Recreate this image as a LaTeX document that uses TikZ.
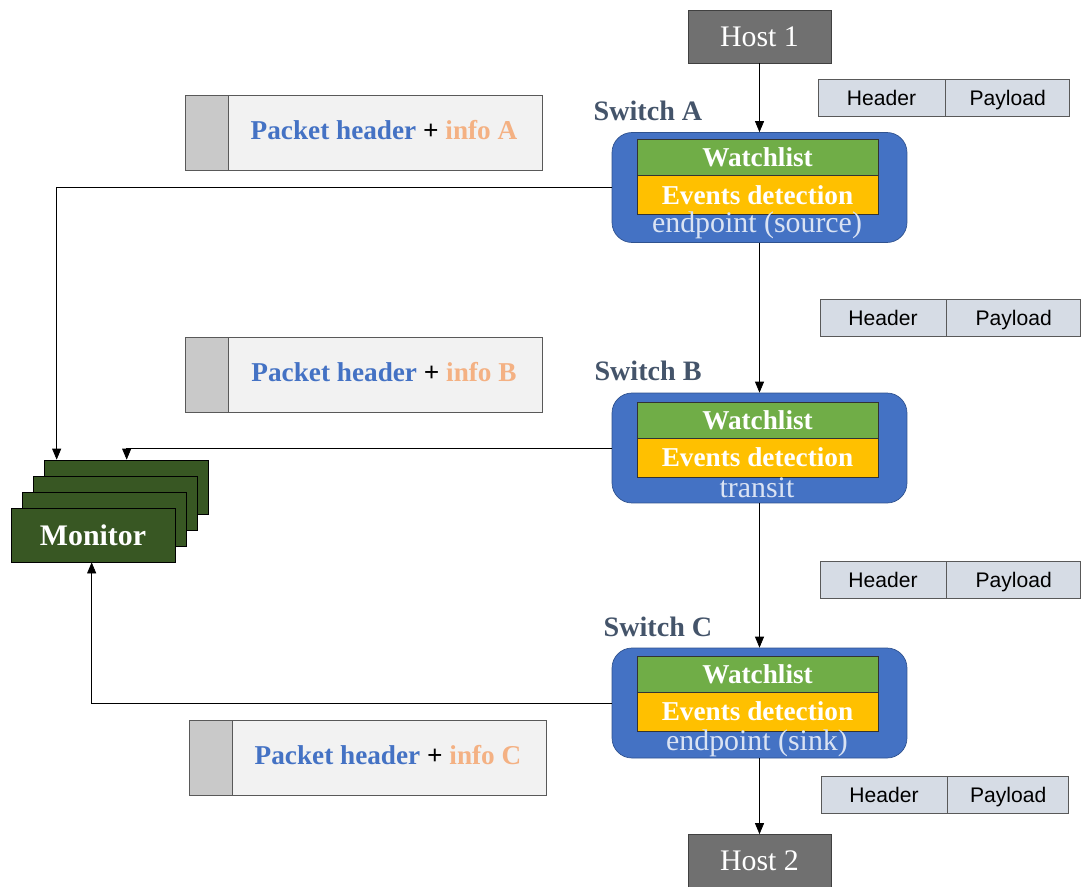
\documentclass[tikz,border=0pt]{standalone}
\usepackage{fontspec}
\setmainfont{Liberation Serif}
\newfontfamily\hdrfont{Liberation Sans}
\usetikzlibrary{arrows.meta,positioning,calc}
\definecolor{hostgray}{HTML}{707070}
\definecolor{switchblue}{HTML}{4472C4}
\definecolor{switchedge}{HTML}{2F528F}
\definecolor{watchgreen}{HTML}{70AD47}
\definecolor{eventyellow}{HTML}{FFC000}
\definecolor{roletext}{HTML}{DAE3F3}
\definecolor{labelslate}{HTML}{44546A}
\definecolor{pktfill}{HTML}{F2F2F2}
\definecolor{pktstrip}{HTML}{C9C9C9}
\definecolor{hdrfill}{HTML}{D6DCE5}
\definecolor{monitorgreen}{HTML}{385723}
\definecolor{infoorange}{HTML}{F4B183}
\definecolor{hdrblue}{HTML}{4472C4}

\begin{document}
\begin{tikzpicture}[x=0.02cm,y=-0.02cm,>={Triangle[length=2.2mm,width=1.8mm]},
host/.style={draw=black!75,fill=hostgray,text=white,minimum width=2.86cm,
  minimum height=1.06cm,inner sep=0pt,font=\fontsize{17}{19}\selectfont},
switchbox/.style={draw=switchedge,fill=switchblue,rounded corners=0.4cm,
  minimum width=5.9cm,minimum height=2.2cm,inner sep=0pt},
watch/.style={draw=black!80,fill=watchgreen,text=white,minimum width=4.82cm,
  minimum height=0.72cm,inner sep=0pt,font=\fontsize{15.5}{17}\selectfont\bfseries},
events/.style={watch,fill=eventyellow,minimum height=0.78cm},
role/.style={text=roletext,inner sep=0pt,font=\fontsize{17}{19}\selectfont},
swlabel/.style={text=labelslate,inner sep=0pt,font=\fontsize{16}{18}\selectfont\bfseries},
hdr/.style={draw=black!65,fill=hdrfill,minimum height=0.74cm,inner sep=0pt,
  text height=8.6pt,text depth=0pt,font=\hdrfont\fontsize{12}{14}\selectfont},
pkt/.style={draw=black!65,fill=pktfill,minimum width=7.14cm,minimum height=1.5cm,inner sep=0pt},
strip/.style={draw=black!65,fill=pktstrip,minimum width=0.86cm,minimum height=1.5cm,inner sep=0pt},
pkttext/.style={inner sep=0pt,font=\fontsize{15.5}{17}\selectfont\bfseries},
mon/.style={draw=black,fill=monitorgreen,minimum width=3.28cm,minimum height=1.08cm,
  inner sep=0pt,text=white,font=\fontsize{17}{19}\selectfont\bfseries}]
\useasboundingbox (0,0) rectangle (1081,886);

\node[host] (host1) at (759.5,36.5) {Host 1};
\node[host] (host2) at (759.5,861) {Host 2};

\node[switchbox] (swA) at (759.5,187.5) {};
\node[watch] (watchA) at (757.5,157) {Watchlist};
\node[events] (eventsA) at (757.5,195) {Events detection};
\node[role] (roleA) at (757,225) {endpoint (source)};
\node[swlabel] (labA) at (648,111) {Switch A};

\node[switchbox] (swB) at (759.5,448) {};
\node[watch] (watchB) at (757.5,420.5) {Watchlist};
\node[events] (eventsB) at (757.5,457.5) {Events detection};
\node[role] (roleB) at (757,488) {transit};
\node[swlabel] (labB) at (648,371) {Switch B};

\node[switchbox] (swC) at (759.5,703) {};
\node[watch] (watchC) at (757.5,674) {Watchlist};
\node[events] (eventsC) at (757.5,711.5) {Events detection};
\node[role] (roleC) at (757,743) {endpoint (sink)};
\node[swlabel] (labC) at (658,627) {Switch C};

\node[hdr,minimum width=2.54cm] (hdr1) at (881.5,98) {Header};
\node[hdr,minimum width=2.48cm,right=0pt of hdr1] (pay1) {Payload};
\node[hdr,minimum width=2.52cm] (hdr2) at (883,318) {Header};
\node[hdr,minimum width=2.68cm,right=0pt of hdr2] (pay2) {Payload};
\node[hdr,minimum width=2.52cm] (hdr3) at (883,580) {Header};
\node[hdr,minimum width=2.68cm,right=0pt of hdr3] (pay3) {Payload};
\node[hdr,minimum width=2.52cm] (hdr4) at (884,794.5) {Header};
\node[hdr,minimum width=2.42cm,right=0pt of hdr4] (pay4) {Payload};

\node[pkt] (pktA) at (363.5,132.5) {};
\node[strip,anchor=west] (stripA) at (pktA.west) {};
\node[pkttext] at (384,130) {\textcolor{hdrblue}{Packet header} + \textcolor{infoorange}{info A}};
\node[pkt] (pktB) at (363.5,374.5) {};
\node[strip,anchor=west] (stripB) at (pktB.west) {};
\node[pkttext] at (384,372) {\textcolor{hdrblue}{Packet header} + \textcolor{infoorange}{info B}};
\node[pkt] (pktC) at (367.5,757.5) {};
\node[strip,anchor=west] (stripC) at (pktC.west) {};
\node[pkttext] at (388,755) {\textcolor{hdrblue}{Packet header} + \textcolor{infoorange}{info C}};

\foreach \i in {3,2,1}
  \node[mon] (mon\i) at (93+11*\i,535-16*\i) {};
\node[mon] (mon0) at (93,535) {Monitor};

\draw[->] (host1) -- (swA);
\draw[->] (swA) -- (swB);
\draw[->] (swB) -- (swC);
\draw[->] (swC) -- (host2);
\draw[->] (swA.west) -| ($(mon3.north west)+(13,0)$);
\draw[->] (swB.west) -| ($(mon3.north west)+(83,0)$);
\draw[->] (swC.west) -| ($(mon0.south west)+(81,0)$);
\end{tikzpicture}
\end{document}
